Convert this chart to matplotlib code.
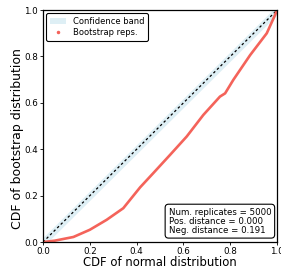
import numpy as np
import matplotlib
matplotlib.use("Agg")
import matplotlib.pyplot as plt
from matplotlib.lines import Line2D

# Bootstrap CDF curve
cdf_normal = [0.0, 0.05, 0.13, 0.20, 0.272, 0.343, 0.415, 0.471, 0.543, 0.614,
              0.685, 0.756, 0.778, 0.813, 0.885, 0.956, 0.991, 1.0]
cdf_boot = [0.0, 0.006, 0.022, 0.053, 0.096, 0.146, 0.236, 0.297, 0.376, 0.455,
            0.548, 0.627, 0.641, 0.699, 0.806, 0.900, 0.978, 1.0]
band_x = [0.0, 1.0]
band_lo = [-0.02, 0.98]
band_hi = [0.02, 1.02]
stats_lines = ["Num. replicates = 5000", "Pos. distance = 0.000", "Neg. distance = 0.191"]

fig = plt.figure(figsize=(2.81, 2.72), dpi=100)
ax = fig.add_axes([0.153, 0.110, 0.833, 0.853])

ax.fill_between(band_x, band_lo, band_hi, color="#add8e6", alpha=0.4, lw=0,
                label="Confidence band")
ax.plot([0, 1], [0, 1], ls=(0, (2, 2)), color="black", lw=0.9)
ax.plot(cdf_normal, cdf_boot, color="#f4635a", lw=1.9, solid_capstyle="round")

ax.set_xlim(0, 1)
ax.set_ylim(0, 1)
ax.set_xticks([0, 0.2, 0.4, 0.6, 0.8, 1.0])
ax.set_yticks([0, 0.2, 0.4, 0.6, 0.8, 1.0])
ax.tick_params(labelsize=6.3, length=2.5, width=0.6, pad=1)
for s in ax.spines.values():
    s.set_linewidth(0.9)
ax.set_xlabel("CDF of normal distribution", fontsize=8.4, labelpad=0)
ax.set_ylabel("CDF of bootstrap distribution", fontsize=9.0)
ax.yaxis.set_label_coords(-0.083, 0.448)

handles = [
    plt.Rectangle((0, 0), 1, 1, color="#add8e6", alpha=0.4, lw=0),
    Line2D([], [], ls="none", marker="o", ms=1.5, color="#f4635a"),
]
leg = ax.legend(handles, ["Confidence band", "Bootstrap reps."], loc="upper left",
                fontsize=6.0, frameon=True, fancybox=True, framealpha=1,
                borderaxespad=0.4, handlelength=2.0, borderpad=0.4, labelspacing=0.3)
leg.get_frame().set_edgecolor("black")
leg.get_frame().set_linewidth(0.8)

ax.text(0.975, 0.032, "\n".join(stats_lines), transform=ax.transAxes,
        ha="right", va="bottom", multialignment="left", fontsize=6.2, linespacing=1.0,
        bbox=dict(boxstyle="round,pad=0.4", fc="white", ec="black", lw=0.8))

fig.savefig("out.png", dpi=100)
